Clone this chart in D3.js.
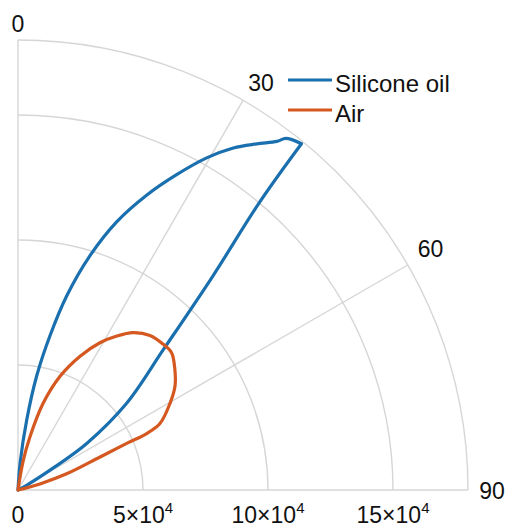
<!DOCTYPE html>
<html>
<head>
  <meta charset="utf-8">
  <title>Polar plot</title>
  <script src="https://d3js.org/d3.v7.min.js"></script>
  <style type="text/css">
    body { margin: 0; background: #fff; }
    svg { display: block; font-family: "Liberation Sans", Arial, sans-serif; }
  </style>
</head>
<body>
  <div id="chart"></div>
<script type="text/javascript">
  // data (angle in degrees from vertical, radius in 1e4)
  const angleTicks = [0, 30, 60, 90];
  const radialTicks = [0, 5, 10, 15];
  const rMax = 18;
  const seriesNames = ['Silicone oil', 'Air'];

  const siliconeTheta = [0, 4.5, 7.1, 9.3, 11.7, 14.1, 17.1, 20.2, 23.6, 26.7, 29.6, 32.2, 34.6, 36.6, 37.3, 39.3,
    40.0, 42.3, 46.0, 51.4, 55.9, 58.0, 61.0, 0];
  const siliconeR = [0, 1.1, 2.82, 4.62, 6.29, 8.01, 9.82, 11.43, 12.88, 14.12, 15.28, 16.17, 16.82, 17.37, 17.68, 17.9,
    15.06, 11.6, 8.08, 5.56, 3.32, 1.65, 0.41, 0];

  const airTheta = [0, 10, 12.7, 16.2, 20.3, 24.9, 29.1, 32.7, 36.2, 40.5, 44.9, 48.2, 52.5, 56.6, 60.3, 64.9, 66.3, 66.8, 68.1, 71.6, 74.5, 0];
  const airR = [0, 1.14, 2.18, 3.62, 4.85, 5.9, 6.74, 7.32, 7.8, 8.13, 8.23, 8.24, 7.91, 7.52, 7.0, 6.27, 5.62, 4.73, 3.54, 2.05, 0.91, 0];

  const colors = ['#1a6fae', '#d4581f'];

  const width = 507, height = 527;
  const cx = 18, cy = 490;
  const gridColor = '#d6d6d6';

  const svg = d3.select('#chart').append('svg')
    .attr('width', width)
    .attr('height', height);

  const g = svg.append('g').attr('transform', `translate(${cx},${cy})`);

  const r = d3.scaleLinear().domain([0, rMax]).range([0, 450]);
  const a = d3.scaleLinear().domain([0, 90]).range([0, Math.PI / 2]);

  // arcs
  radialTicks.slice(1).concat([rMax]).forEach(v => {
    const p = d3.path();
    p.moveTo(0, -r(v));
    p.arc(0, 0, r(v), -Math.PI / 2, 0);
    g.append('path')
      .attr('d', p.toString())
      .attr('fill', 'none')
      .attr('stroke', gridColor)
      .attr('stroke-width', 1.4);
  });

  // spokes
  angleTicks.forEach(t => {
    g.append('line')
      .attr('x1', 0).attr('y1', 0)
      .attr('x2', r(rMax) * Math.sin(a(t)))
      .attr('y2', -r(rMax) * Math.cos(a(t)))
      .attr('stroke', gridColor)
      .attr('stroke-width', 1.4);
  });

  // angle labels, small nudges so they sit like the original
  const nudge = { 0: [0, 8], 30: [6, 3], 60: [2, -4], 90: [0, 1] };
  angleTicks.forEach(t => {
    const rr = r(rMax) + 24;
    g.append('text')
      .attr('x', rr * Math.sin(a(t)) + nudge[t][0])
      .attr('y', -rr * Math.cos(a(t)) + nudge[t][1])
      .attr('text-anchor', 'middle')
      .attr('dominant-baseline', 'central')
      .attr('font-size', 23)
      .attr('fill', '#111')
      .text(t);
  });

  // radial tick labels
  radialTicks.forEach(v => {
    const t = g.append('text')
      .attr('x', r(v))
      .attr('y', 33)
      .attr('text-anchor', 'middle')
      .attr('font-size', 23)
      .attr('fill', '#111');
    if (v === 0) {
      t.text('0');
    } else {
      t.append('tspan').text(v + '×10');
      t.append('tspan').attr('dy', -10).attr('font-size', 15).text('4');
    }
  });

  // curves
  const line = d3.lineRadial()
    .angle(d => a(d[0]))
    .radius(d => r(d[1]))
    .curve(d3.curveCatmullRom.alpha(0.5));

  const silicone = d3.zip(siliconeTheta, siliconeR);
  const air = d3.zip(airTheta, airR);

  // silicone oil has a sharp tip at its farthest point
  const tip = d3.maxIndex(silicone, d => d[1]);
  const paths = [
    line(silicone.slice(0, tip + 1)) + line(silicone.slice(tip)),
    line(air)
  ];

  paths.forEach((d, i) => {
    g.append('path')
      .attr('d', d)
      .attr('fill', 'none')
      .attr('stroke', colors[i])
      .attr('stroke-width', 3.2)
      .attr('stroke-linejoin', 'round')
      .attr('stroke-linecap', 'round');
  });

  // legend
  const legend = svg.append('g').attr('transform', 'translate(288,80)');
  seriesNames.forEach((name, i) => {
    legend.append('line')
      .attr('x1', 0).attr('x2', 44)
      .attr('y1', i * 30).attr('y2', i * 30)
      .attr('stroke', colors[i])
      .attr('stroke-width', 3.2);
    legend.append('text')
      .attr('x', 47)
      .attr('y', i * 30 + 12)
      .attr('font-size', 24)
      .attr('fill', '#111')
      .text(name);
  });
</script>
</body>
</html>
